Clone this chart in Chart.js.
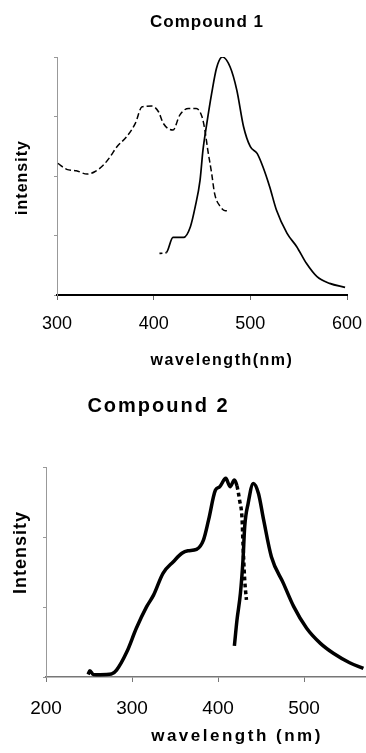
<!DOCTYPE html>
<html>
<head>
<meta charset="utf-8">
<script src="https://cdn.jsdelivr.net/npm/chart.js@4.4.0/dist/chart.umd.min.js"></script>
<style>
  body { margin: 0; background: #fff; }
  .box { position: absolute; left: 0; width: 366px; }
</style>
</head>
<body>
<div class="box" style="top:0;height:380px"><canvas id="compound1"></canvas></div>
<div class="box" style="top:380px;height:373px"><canvas id="compound2"></canvas></div>
<script>
// Compound 1 - excitation (dashed) and emission (solid)
const exc1Wl = [301, 310, 320, 331, 339, 348, 355, 362, 372, 381, 388, 398, 405, 410, 420, 427, 436, 444, 450, 453, 456, 460, 463, 469, 474, 477];
const exc1Int = [0.553, 0.528, 0.522, 0.508, 0.518, 0.546, 0.581, 0.623, 0.665, 0.721, 0.791, 0.794, 0.770, 0.721, 0.693, 0.756, 0.784, 0.784, 0.749, 0.693, 0.609, 0.511, 0.427, 0.371, 0.354, 0.354];
const em1Wl = [406, 413, 420, 431, 438, 443, 448, 451, 455, 460, 465, 471, 479, 486, 493, 500, 507, 513, 520, 527, 538, 548, 558, 569, 582, 598];
const em1Int = [0.175, 0.178, 0.242, 0.242, 0.287, 0.371, 0.483, 0.609, 0.721, 0.847, 0.953, 1.0, 0.959, 0.861, 0.707, 0.623, 0.595, 0.539, 0.455, 0.357, 0.259, 0.203, 0.133, 0.077, 0.049, 0.032];

// Compound 2 - excitation (solid, dashed tail) and emission
const exc2Wl = [249, 251, 255, 263, 276, 282, 294, 305, 317, 325, 336, 348, 358, 365, 375, 383, 389, 397, 402, 409, 414, 419, 422, 425, 428, 429, 431, 433];
const exc2Int = [0.012, 0.03, 0.012, 0.011, 0.014, 0.033, 0.12, 0.232, 0.335, 0.39, 0.494, 0.549, 0.589, 0.601, 0.608, 0.652, 0.748, 0.89, 0.906, 0.946, 0.906, 0.938, 0.91, 0.843, 0.748, 0.636, 0.462, 0.367];
const em2Wl = [419, 422, 426, 429, 431, 435, 441, 447, 453, 462, 476, 488, 503, 519, 534, 553, 569];
const em2Int = [0.148, 0.271, 0.398, 0.557, 0.716, 0.827, 0.922, 0.874, 0.748, 0.573, 0.446, 0.335, 0.232, 0.16, 0.113, 0.068, 0.041];

const FONT = "'Liberation Sans', Arial, sans-serif";

function points(xs, ys) {
    return xs.map((x, i) => ({ x: x, y: ys[i] }));
}

// draws titles and axis titles where the scanned figure has them
const textPlugin = {
    id: 'texts',
    afterDraw(chart, args, opts) {
        const ctx = chart.ctx;
        (opts.items || []).forEach(t => {
            ctx.save();
            ctx.font = 'bold ' + t.size + 'px ' + FONT;
            ctx.letterSpacing = (t.spacing || 0) + 'px';
            ctx.fillStyle = '#000';
            ctx.textAlign = 'center';
            ctx.textBaseline = 'middle';
            ctx.translate(t.x, t.y);
            if (t.rotate) ctx.rotate(-Math.PI / 2);
            ctx.fillText(t.text, 0, 0);
            ctx.restore();
        });
    }
};

function lineSet(data, width, extra) {
    return Object.assign({
        data: data,
        borderColor: '#000',
        borderWidth: width,
        pointRadius: 0,
        fill: false,
        cubicInterpolationMode: 'monotone'
    }, extra || {});
}

// fixed axis band, no extra room for edge labels
function fixHeight(h) {
    return s => { s.height = h; s.paddingLeft = 0; s.paddingRight = 0; };
}

const ctx1 = document.getElementById('compound1').getContext('2d');
new Chart(ctx1, {
    type: 'line',
    data: {
        datasets: [
            lineSet(points(exc1Wl, exc1Int), 1.5, { borderDash: [6, 3] }),
            lineSet(points(em1Wl, em1Int), 1.7, {
                segment: { borderDash: c => c.p0.parsed.x < 413 ? [3, 3] : undefined }
            })
        ]
    },
    options: {
        responsive: true,
        maintainAspectRatio: false,
        animation: false,
        layout: { padding: { left: 0, right: 19, top: 57, bottom: 0 } },
        plugins: {
            legend: { display: false },
            tooltip: { enabled: false },
            texts: {
                items: [
                    { text: 'Compound 1', x: 207, y: 22, size: 17, spacing: 1 },
                    { text: 'wavelength(nm)', x: 222, y: 361, size: 16, spacing: 1.5 },
                    { text: 'intensity', x: 22.5, y: 177.5, size: 16, spacing: 1, rotate: true }
                ]
            }
        },
        scales: {
            x: {
                type: 'linear',
                min: 300,
                max: 600,
                afterFit: fixHeight(85),
                border: { color: '#000', width: 2 },
                grid: { drawOnChartArea: false, drawTicks: true, tickLength: 5, color: '#666' },
                ticks: { stepSize: 100, color: '#000', font: { family: FONT, size: 18 }, padding: 13, maxRotation: 0 }
            },
            y: {
                min: 0,
                max: 1,
                afterFit: s => { s.width = 57; },
                border: { color: '#999', width: 1 },
                grid: { drawOnChartArea: false, drawTicks: true, tickLength: 3, color: '#999' },
                ticks: { display: false, count: 5 }
            }
        }
    },
    plugins: [textPlugin]
});

const ctx2 = document.getElementById('compound2').getContext('2d');
new Chart(ctx2, {
    type: 'line',
    data: {
        datasets: [
            lineSet(points(exc2Wl, exc2Int), 3.5, {
                segment: { borderDash: c => c.p0.parsed.x >= 422 ? [4, 3] : undefined }
            }),
            lineSet(points(em2Wl, em2Int), 3.5)
        ]
    },
    options: {
        responsive: true,
        maintainAspectRatio: false,
        animation: false,
        layout: { padding: { left: 0, right: 0, top: 87, bottom: 0 } },
        plugins: {
            legend: { display: false },
            tooltip: { enabled: false },
            texts: {
                items: [
                    { text: 'Compound 2', x: 158.5, y: 26, size: 20, spacing: 2 },
                    { text: 'wavelength (nm)', x: 237, y: 356, size: 17, spacing: 2.5 },
                    { text: 'Intensity', x: 21, y: 172.5, size: 18, spacing: 1, rotate: true }
                ]
            }
        },
        scales: {
            x: {
                type: 'linear',
                min: 200,
                max: 572,
                afterFit: fixHeight(76),
                border: { color: '#777', width: 1.5 },
                grid: { drawOnChartArea: false, drawTicks: true, tickLength: 5, color: '#777' },
                ticks: { stepSize: 100, includeBounds: false, color: '#000', font: { family: FONT, size: 19 }, padding: 15, maxRotation: 0 }
            },
            y: {
                min: 0,
                max: 1,
                afterFit: s => { s.width = 46; },
                border: { color: '#999', width: 1 },
                grid: { drawOnChartArea: false, drawTicks: true, tickLength: 3, color: '#999' },
                ticks: { display: false, count: 4 }
            }
        }
    },
    plugins: [textPlugin]
});
</script>
</body>
</html>
